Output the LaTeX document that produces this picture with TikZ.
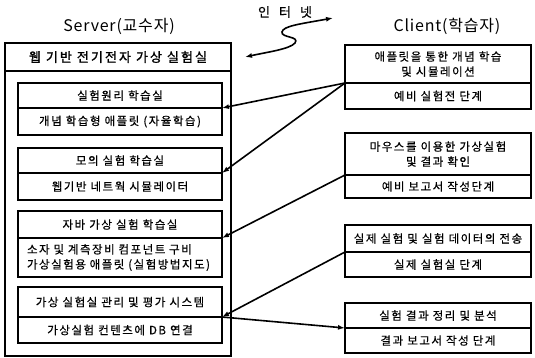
\documentclass[tikz,border=0pt]{standalone}
\usepackage{fontspec}
\setmainfont{Noto Sans CJK KR}
\newfontfamily\kr{Noto Sans CJK KR}[LetterSpace=13,FakeBold=0.5]
\newfontfamily\krb{Noto Sans CJK KR}[LetterSpace=16,FakeBold=1.5]
\newfontfamily\krl{Noto Sans CJK KR}[LetterSpace=5]
\usetikzlibrary{arrows.meta}
\begin{document}
\begin{tikzpicture}[x=1pt,y=-1pt,
  row/.style={draw, line width=1.3pt, anchor=north west, inner sep=0pt, outer sep=0pt,
    align=center, font=\kr\fontsize{11.5}{15}\selectfont},
  srvrow/.style={row, minimum width=204pt},
  cltrow/.style={row, minimum width=186pt},
  label/.style={font=\krl\fontsize{16}{19}\selectfont, inner sep=0pt},
  link/.style={line width=1.6pt, -{Latex[length=7pt,width=5pt]}},
]
\useasboundingbox (0,0) rectangle (535,358);
% labels
\node[label] (srvlabel) at (119,26) {Server(교수자)};
\node[label, font=\kr\fontsize{13}{16}\selectfont] (netlabel) at (285,12) {인\hspace{9pt}터\hspace{9pt}넷};
\node[label] (cltlabel) at (447,26) {Client(학습자)};
% server
\node[row, minimum width=226pt, minimum height=313pt] (srv) at (5,43) {};
\node[row, minimum width=226pt, minimum height=28pt, font=\krb\fontsize{13}{16}\selectfont] (srvt) at (5,43) {웹 기반 전기전자 가상 실험실};
\node[srvrow, minimum height=25pt] (b1a) at (18,83) {실험원리 학습실};
\node[srvrow, minimum height=27pt] (b1b) at (18,108) {개념 학습형 애플릿 (자율학습)};
\node[srvrow, minimum height=25pt] (b2a) at (18,148) {모의 실험 학습실};
\node[srvrow, minimum height=27pt] (b2b) at (18,173) {웹기반 네트웍 시뮬레이터};
\node[srvrow, minimum height=27pt] (b3a) at (18,211) {자바 가상 실험 학습실};
\node[srvrow, minimum height=39pt, text width=186pt, align=left] (b3b) at (18,238) {소자 및 계측장비 컴포넌트 구비\\가상실험용 애플릿 (실험방법지도)};
\node[srvrow, minimum height=30pt] (b4a) at (18,287) {가상 실험실 관리 및 평가 시스템};
\node[srvrow, minimum height=26pt] (b4b) at (18,317) {가상실험 컨텐츠에 DB 연결};
% client
\node[cltrow, minimum height=38pt] (c1a) at (345,45) {애플릿을 통한 개념 학습\\및 시뮬레이션};
\node[cltrow, minimum height=26pt] (c1b) at (345,83) {예비 실험전 단계};
\node[cltrow, minimum height=42pt] (c2a) at (345,133) {마우스를 이용한 가상실험\\및 결과 확인};
\node[cltrow, minimum height=23pt] (c2b) at (345,175) {예비 보고서 작성단계};
\node[cltrow, minimum height=27pt] (c3a) at (345,225) {실제 실험 및 실험 데이터의 전송};
\node[cltrow, minimum height=25pt] (c3b) at (345,252) {실제 실험실 단계};
\node[cltrow, minimum height=25pt] (c4a) at (345,303) {실험 결과 정리 및 분석};
\node[cltrow, minimum height=25pt] (c4b) at (345,328) {결과 보고서 작성 단계};
% connectors
\draw[link] (c1b.north west) -- (b1b.north east);
\draw[link] (c1b.north west) -- (b2b.north east);
\draw[link] (c2b.north west) -- (b3b.north east);
\draw[link] (c3b.north west) -- (b4b.north east);
\draw[link] (b4b.north east) -- (c4b.north west);
% internet squiggle
\coordinate (netL) at (245,57);
\coordinate (netR) at (333,18);
\draw[line width=1.6pt, {Latex[length=7pt,width=5pt]}-{Latex[length=7pt,width=5pt]}]
  (netL) .. controls (268,52) and (290,49) .. (295,43)
  .. controls (300,36) and (281,38) .. (282,32)
  .. controls (283,26) and (300,24) .. (netR);
\end{tikzpicture}
\end{document}
